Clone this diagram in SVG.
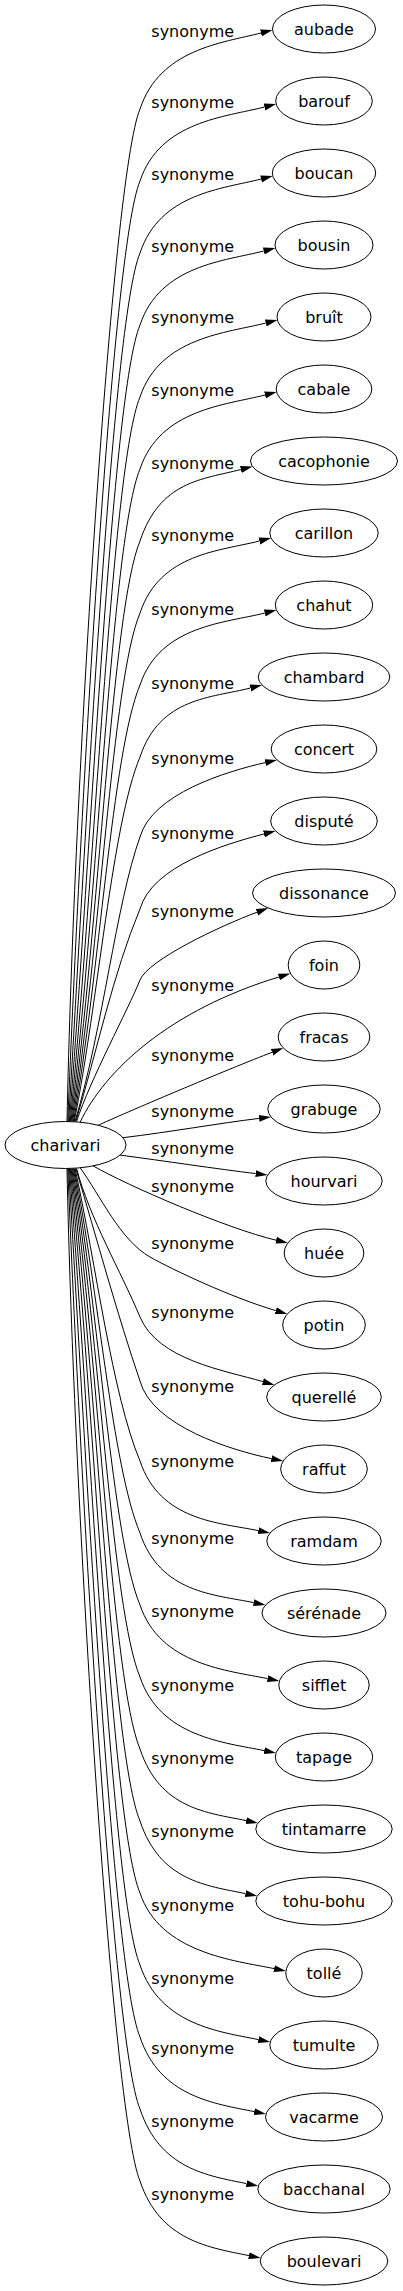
<svg xmlns="http://www.w3.org/2000/svg" width="403" height="2291" viewBox="0 0 403 2291">
<style>
.e{fill:none;stroke:#000;stroke-width:1;marker-end:url(#ah)}
.l{font-family:"DejaVu Sans",sans-serif;font-size:16px;fill:#000;text-anchor:middle}
.n ellipse{fill:#fff;stroke:#000;stroke-width:1}
.n text{font-family:"DejaVu Sans",sans-serif;font-size:16px;fill:#000;text-anchor:middle}
</style>
<defs>
<marker id="ah" viewBox="0 0 12 8" refX="0" refY="4" markerWidth="12" markerHeight="8" markerUnits="userSpaceOnUse" orient="auto"><path d="M0,0.5 L12,4 L0,7.5 z" fill="#000"/></marker>
</defs>
<rect width="403" height="2291" fill="#fff"/>
<g id="connectors">
<path class="e" d="M67,1121.5 C73.7,787.4 112,176 140,109 C160,49 222.1,43 260.9,33"/>
<path class="e" d="M67.8,1121.5 C80.2,811.1 112,248 140,181 C160,121 225.7,117 264.5,107"/>
<path class="e" d="M68.6,1121.5 C85.8,834.9 112,320 140,253 C160,193 222.3,189 261.1,179"/>
<path class="e" d="M69.4,1121.5 C90.4,858.7 112,392 140,325 C160,265 225,261 263.8,251"/>
<path class="e" d="M70.2,1121.5 C94.1,882.4 112,464 140,397 C160,337 227,333 265.8,323"/>
<path class="e" d="M71,1121.5 C96.8,906.2 112,536 140,469 C160,409 226.2,405 265,395"/>
<path class="e" d="M71.8,1121.5 C98.6,929.9 112,608 140,541 C160,481 202.1,479.5 240.9,469.5"/>
<path class="e" d="M72.6,1121.5 C99.4,953.7 112,680 140,613 C160,553 220.6,551 259.4,541"/>
<path class="e" d="M73.4,1121.5 C99.3,977.5 112,752 140,685 C160,625 226,623 264.8,613"/>
<path class="e" d="M74.2,1121.5 C98.3,1001.2 112,824 140,757 C160,697 211.6,698 250.4,688"/>
<path class="e" d="M75,1121.5 C103.2,1027.6 116,904 140,837 C152,794 226.3,771.4 265.3,762.6"/>
<path class="e" d="M75.8,1121.5 C96.8,1051.4 113.3,972.8 140,909 C152,866 225.2,844 263.9,834"/>
<path class="e" d="M76.6,1121.5 C90,1080 128,1010 140,980 C148,960 219.6,926.2 257,912.2"/>
<path class="e" d="M80,1122.4 C105,1070 170,1010 278.9,977"/>
<path class="e" d="M98,1125.4 C120,1115 230,1068.3 272.1,1052.3"/>
<path class="e" d="M123,1137.7 C170,1132 219.5,1123.2 259.1,1118.4"/>
<path class="e" d="M120,1155.1 C165,1161 216.1,1168.8 255.7,1173.6"/>
<path class="e" d="M93,1165.8 C128,1186 227.4,1228.7 276.1,1240.2"/>
<path class="e" d="M80,1167.6 C100,1195 120,1240 150,1257 C172,1269.5 232.6,1298 275.8,1310.6"/>
<path class="e" d="M76.6,1168.5 C89.3,1217.5 121.4,1272.4 140,1317 C158,1360 224.5,1370.4 262.9,1381.6"/>
<path class="e" d="M75.8,1168.5 C96.8,1238.6 118,1317 140,1381 C152,1426 232.2,1450.6 271.4,1458.6"/>
<path class="e" d="M75,1168.5 C96.2,1265 112,1394 140,1461 C160,1521 219.1,1522.6 258.3,1530.6"/>
<path class="e" d="M74.2,1168.5 C98.3,1288.8 112,1466 140,1533 C160,1593 214.5,1594.6 253.7,1602.6"/>
<path class="e" d="M73.4,1168.5 C99.3,1312.5 112,1538 140,1605 C160,1665 228.4,1670.6 267.6,1678.6"/>
<path class="e" d="M72.6,1168.5 C99.4,1336.3 112,1610 140,1677 C160,1737 225,1742.6 264.2,1750.6"/>
<path class="e" d="M71.8,1168.5 C98.6,1360.1 112,1682 140,1749 C160,1809 207,1812.6 246.2,1820.6"/>
<path class="e" d="M71,1168.5 C96.8,1383.8 112,1754 140,1821 C160,1881 206.3,1885.6 245.5,1893.6"/>
<path class="e" d="M70.2,1168.5 C94.1,1407.6 112,1826 140,1893 C160,1953 234.9,1960.6 274.1,1968.6"/>
<path class="e" d="M69.4,1168.5 C90.4,1431.3 112,1898 140,1965 C160,2025 219.2,2031.6 258.4,2039.6"/>
<path class="e" d="M68.6,1168.5 C85.8,1455.1 112,1970 140,2037 C160,2097 215,2103.6 254.2,2111.6"/>
<path class="e" d="M67.8,1168.5 C80.2,1478.9 112,2042 140,2109 C160,2169 207.3,2175.6 246.5,2183.6"/>
<path class="e" d="M67,1168.5 C73.7,1502.6 112,2114 140,2181 C160,2241 209.7,2247.6 248.9,2255.6"/>
<text class="l" x="192.7" y="37">synonyme</text>
<text class="l" x="192.7" y="108">synonyme</text>
<text class="l" x="192.7" y="180">synonyme</text>
<text class="l" x="192.7" y="252">synonyme</text>
<text class="l" x="192.7" y="323">synonyme</text>
<text class="l" x="192.7" y="396">synonyme</text>
<text class="l" x="192.7" y="469">synonyme</text>
<text class="l" x="192.7" y="541">synonyme</text>
<text class="l" x="192.7" y="615">synonyme</text>
<text class="l" x="192.7" y="689">synonyme</text>
<text class="l" x="192.7" y="764">synonyme</text>
<text class="l" x="192.7" y="839">synonyme</text>
<text class="l" x="192.7" y="917">synonyme</text>
<text class="l" x="192.7" y="991">synonyme</text>
<text class="l" x="192.7" y="1061">synonyme</text>
<text class="l" x="192.7" y="1117">synonyme</text>
<text class="l" x="192.7" y="1154">synonyme</text>
<text class="l" x="192.7" y="1192">synonyme</text>
<text class="l" x="192.7" y="1249">synonyme</text>
<text class="l" x="192.7" y="1318">synonyme</text>
<text class="l" x="192.7" y="1392">synonyme</text>
<text class="l" x="192.7" y="1467">synonyme</text>
<text class="l" x="192.7" y="1544">synonyme</text>
<text class="l" x="192.7" y="1617">synonyme</text>
<text class="l" x="192.7" y="1691">synonyme</text>
<text class="l" x="192.7" y="1764">synonyme</text>
<text class="l" x="192.7" y="1837">synonyme</text>
<text class="l" x="192.7" y="1911">synonyme</text>
<text class="l" x="192.7" y="1984">synonyme</text>
<text class="l" x="192.7" y="2054">synonyme</text>
<text class="l" x="192.7" y="2127">synonyme</text>
<text class="l" x="192.7" y="2200">synonyme</text>
</g>
<g id="charivari" class="n"><ellipse cx="65.5" cy="1145" rx="60.5" ry="23.5"/><text x="65.5" y="1151">charivari</text></g>
<g id="aubade" class="n"><ellipse cx="324" cy="29" rx="51.5" ry="24"/><text x="324" y="35">aubade</text></g>
<g id="barouf" class="n"><ellipse cx="324" cy="101" rx="48.3" ry="24"/><text x="324" y="107">barouf</text></g>
<g id="boucan" class="n"><ellipse cx="324" cy="173" rx="51.7" ry="24"/><text x="324" y="179">boucan</text></g>
<g id="bousin" class="n"><ellipse cx="324" cy="245" rx="49" ry="24"/><text x="324" y="251">bousin</text></g>
<g id="bruit" class="n"><ellipse cx="324" cy="317" rx="47" ry="24"/><text x="324" y="323">bruît</text></g>
<g id="cabale" class="n"><ellipse cx="324" cy="389" rx="47.8" ry="24"/><text x="324" y="395">cabale</text></g>
<g id="cacophonie" class="n"><ellipse cx="324" cy="461" rx="73.5" ry="24"/><text x="324" y="467">cacophonie</text></g>
<g id="carillon" class="n"><ellipse cx="324" cy="533" rx="54.2" ry="24"/><text x="324" y="539">carillon</text></g>
<g id="chahut" class="n"><ellipse cx="324" cy="605" rx="48.7" ry="24"/><text x="324" y="611">chahut</text></g>
<g id="chambard" class="n"><ellipse cx="324" cy="677" rx="65.8" ry="24"/><text x="324" y="683">chambard</text></g>
<g id="concert" class="n"><ellipse cx="324" cy="749" rx="52.8" ry="24"/><text x="324" y="755">concert</text></g>
<g id="dispute" class="n"><ellipse cx="324" cy="821" rx="53.3" ry="24"/><text x="324" y="827">disputé</text></g>
<g id="dissonance" class="n"><ellipse cx="324" cy="893" rx="71.5" ry="24"/><text x="324" y="899">dissonance</text></g>
<g id="foin" class="n"><ellipse cx="324" cy="965" rx="35.8" ry="24"/><text x="324" y="971">foin</text></g>
<g id="fracas" class="n"><ellipse cx="324" cy="1037" rx="45.8" ry="24"/><text x="324" y="1043">fracas</text></g>
<g id="grabuge" class="n"><ellipse cx="324" cy="1109" rx="56.2" ry="24"/><text x="324" y="1115">grabuge</text></g>
<g id="hourvari" class="n"><ellipse cx="324" cy="1181" rx="58.2" ry="24"/><text x="324" y="1187">hourvari</text></g>
<g id="huee" class="n"><ellipse cx="324" cy="1253" rx="39.8" ry="24"/><text x="324" y="1259">huée</text></g>
<g id="potin" class="n"><ellipse cx="324" cy="1325" rx="41.3" ry="24"/><text x="324" y="1331">potin</text></g>
<g id="querelle" class="n"><ellipse cx="324" cy="1397" rx="57.3" ry="24"/><text x="324" y="1403">querellé</text></g>
<g id="raffut" class="n"><ellipse cx="324" cy="1469" rx="43.3" ry="24"/><text x="324" y="1475">raffut</text></g>
<g id="ramdam" class="n"><ellipse cx="324" cy="1541" rx="57.2" ry="24"/><text x="324" y="1547">ramdam</text></g>
<g id="serenade" class="n"><ellipse cx="324" cy="1613" rx="62" ry="24"/><text x="324" y="1619">sérénade</text></g>
<g id="sifflet" class="n"><ellipse cx="324" cy="1685" rx="45.2" ry="24"/><text x="324" y="1691">sifflet</text></g>
<g id="tapage" class="n"><ellipse cx="324" cy="1757" rx="48.7" ry="24"/><text x="324" y="1763">tapage</text></g>
<g id="tintamarre" class="n"><ellipse cx="324" cy="1829" rx="68.2" ry="24"/><text x="324" y="1835">tintamarre</text></g>
<g id="tohu-bohu" class="n"><ellipse cx="324" cy="1901" rx="68.2" ry="24"/><text x="324" y="1907">tohu-bohu</text></g>
<g id="tolle" class="n"><ellipse cx="324" cy="1973" rx="38.2" ry="24"/><text x="324" y="1979">tollé</text></g>
<g id="tumulte" class="n"><ellipse cx="324" cy="2045" rx="54.2" ry="24"/><text x="324" y="2051">tumulte</text></g>
<g id="vacarme" class="n"><ellipse cx="324" cy="2117" rx="58.5" ry="24"/><text x="324" y="2123">vacarme</text></g>
<g id="bacchanal" class="n"><ellipse cx="324" cy="2189" rx="66.2" ry="24"/><text x="324" y="2195">bacchanal</text></g>
<g id="boulevari" class="n"><ellipse cx="324" cy="2261" rx="63.8" ry="24"/><text x="324" y="2267">boulevari</text></g>
</svg>
